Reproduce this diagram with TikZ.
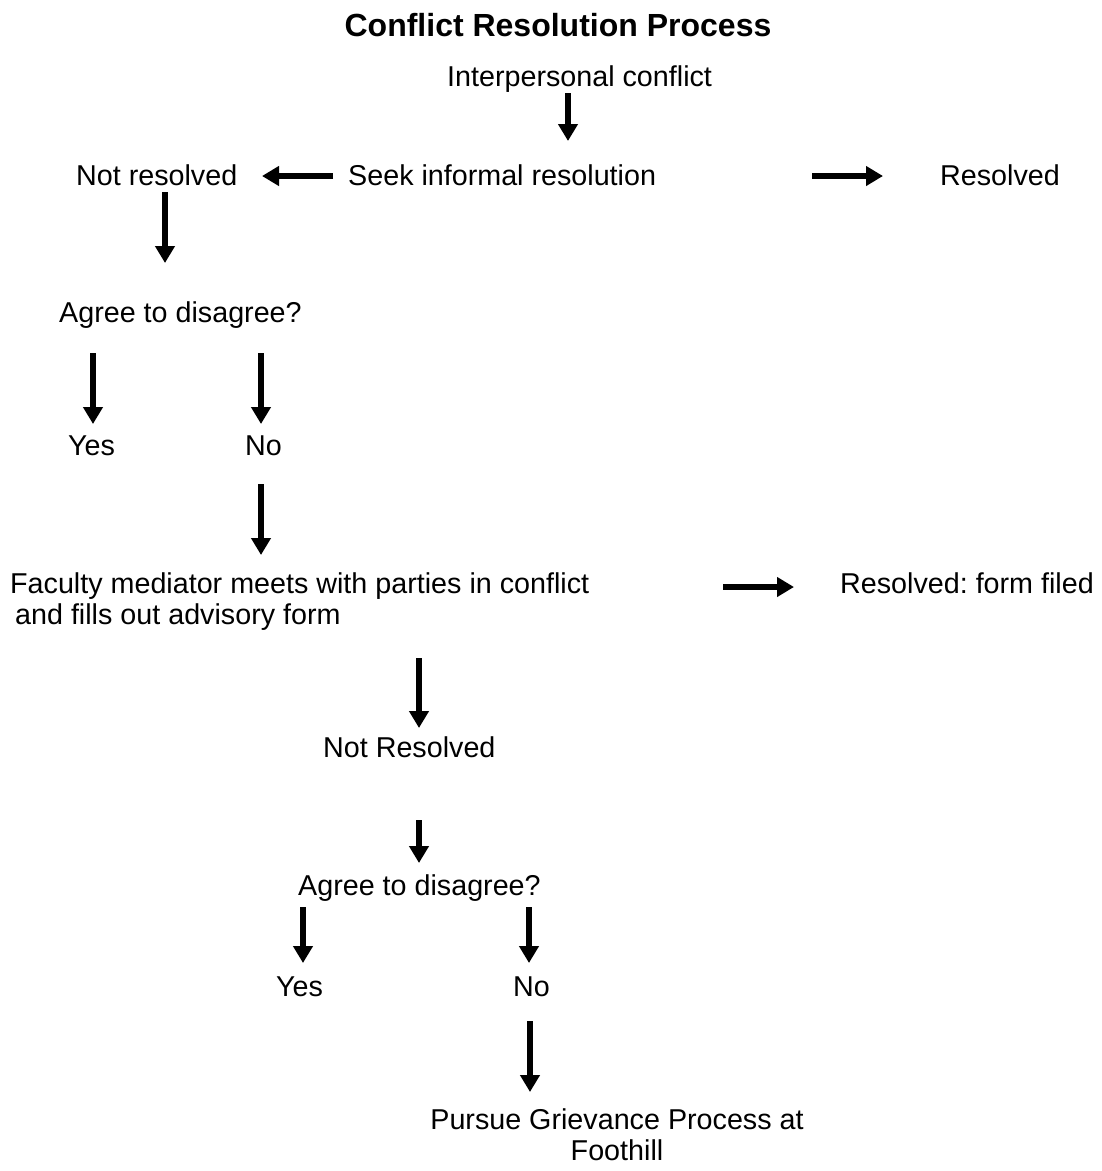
\documentclass[tikz,border=0pt]{standalone}
\usepackage{fontspec}
\setmainfont{Liberation Sans}
\usetikzlibrary{arrows.meta}
\frenchspacing
\begin{document}
\begin{tikzpicture}[x=1pt,y=-1pt,
  lbl/.style={inner sep=0pt,anchor=base west,font=\fontsize{28.7}{31}\selectfont},
  ttl/.style={inner sep=0pt,anchor=base,font=\fontsize{32}{36}\selectfont\bfseries},
  arr/.style={line width=6.5pt,-{Triangle[length=17pt,width=19pt]}}]
\useasboundingbox[fill=white] (0,0) rectangle (1102,1171);
\node[ttl] (title) at (558,36) {Conflict Resolution Process};
\node[lbl] (ic) at (447,86) {Interpersonal conflict};
\node[lbl] (nr1) at (76,185) {Not resolved};
\node[lbl] (seek) at (348,185) {Seek informal resolution};
\node[lbl] (res1) at (940,185) {Resolved};
\node[lbl] (ag1) at (59,322) {Agree to disagree?};
\node[lbl] (yes1) at (68,455) {Yes};
\node[lbl] (no1) at (245,455) {No};
\node[lbl,align=left] (fac) at (10,624) {Faculty mediator meets with parties in conflict\\\hspace*{5pt}and fills out advisory form};
\node[lbl] (res2) at (840,593) {Resolved: form filed};
\node[lbl] (nr2) at (323,757) {Not Resolved};
\node[lbl] (ag2) at (298,895) {Agree to disagree?};
\node[lbl] (yes2) at (276,996) {Yes};
\node[lbl] (no2) at (513,996) {No};
\node[lbl,anchor=base,align=center] (pur) at (617,1160) {Pursue Grievance Process at\\Foothill};
% arrow end points
\coordinate (a1s) at (568,93);  \coordinate (a1e) at (568,141);
\coordinate (a2s) at (333,176); \coordinate (a2e) at (262,176);
\coordinate (a3s) at (812,176); \coordinate (a3e) at (883,176);
\coordinate (a4s) at (165,192); \coordinate (a4e) at (165,263);
\coordinate (a5s) at (93,353);  \coordinate (a5e) at (93,424);
\coordinate (a6s) at (261,353); \coordinate (a6e) at (261,424);
\coordinate (a7s) at (261,484); \coordinate (a7e) at (261,555);
\coordinate (a8s) at (723,587); \coordinate (a8e) at (794,587);
\coordinate (a9s) at (419,658); \coordinate (a9e) at (419,728);
\coordinate (a10s) at (419,820); \coordinate (a10e) at (419,863);
\coordinate (a11s) at (303,907); \coordinate (a11e) at (303,963);
\coordinate (a12s) at (529,907); \coordinate (a12e) at (529,963);
\coordinate (a13s) at (530,1021); \coordinate (a13e) at (530,1092);
\foreach \i in {1,...,13} {\draw[arr] (a\i s) -- (a\i e);}
\end{tikzpicture}
\end{document}
